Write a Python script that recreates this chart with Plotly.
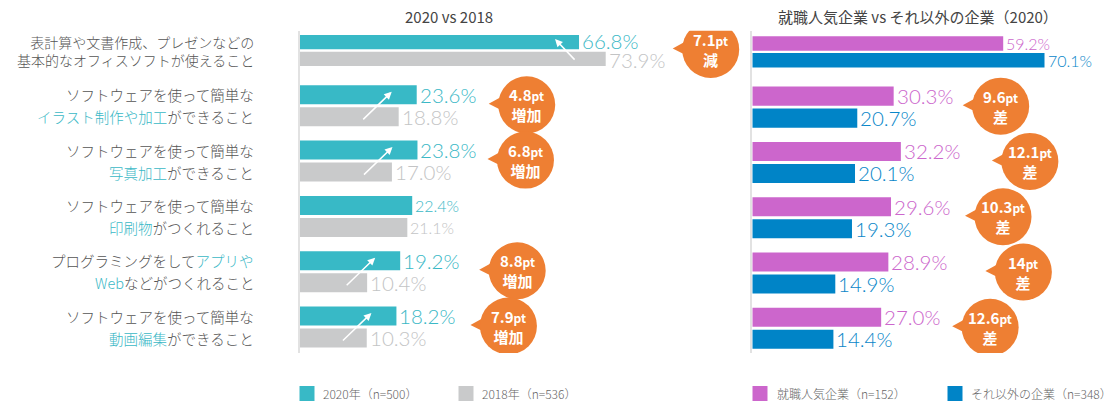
import plotly.graph_objects as go

# ---------------- data ----------------
categories = [
    ("表計算や文書作成、プレゼンなどの", "基本的なオフィスソフトが使えること"),
    ("ソフトウェアを使って簡単な", "[イラスト制作や加工]ができること"),
    ("ソフトウェアを使って簡単な", "[写真加工]ができること"),
    ("ソフトウェアを使って簡単な", "[印刷物]がつくれること"),
    ("プログラミングをして[アプリや]", "[Web]などがつくれること"),
    ("ソフトウェアを使って簡単な", "[動画編集]ができること"),
]
values_2020 = [66.8, 23.6, 23.8, 22.4, 19.2, 18.2]
values_2018 = [73.9, 18.8, 17.0, 21.1, 10.4, 10.3]
values_popular = [59.2, 30.3, 32.2, 29.6, 28.9, 27.0]
values_other = [70.1, 20.7, 20.1, 19.3, 14.9, 14.4]

left_diff = ["7.1", "4.8", "6.8", None, "8.8", "7.9"]
left_diff_word = ["減", "増加", "増加", None, "増加", "増加"]
right_diff = [None, "9.6", "12.1", "10.3", "14", "12.6"]
right_diff_word = [None, "差", "差", "差", "差", "差"]

title_left = "2020 vs 2018"
title_right = "就職人気企業 vs それ以外の企業（2020）"
legend_names = ["2020年（n=500）", "2018年（n=536）", "就職人気企業（n=152）", "それ以外の企業（n=348）"]

# ---------------- styles ----------------
W, H = 1119, 408
C_TEAL, C_GRAY, C_MAG, C_BLUE = "#38B9C6", "#C9CACB", "#CC66CC", "#0084C7"
T_TEAL, T_GRAY, T_MAG, T_BLUE = "#3AB8C6", "#C3C4C5", "#CC66CC", "#0A87C9"
ORANGE = "#EE7F33"
NUM_FONT = "Lato, 'Noto Sans', sans-serif"
JP_FONT = "'Noto Sans CJK JP', 'Noto Sans', sans-serif"

rows = list(range(len(categories)))
bar_w = [0.26] + [0.344] * (len(rows) - 1)
gap = [0.043] + [0.054] * (len(rows) - 1)
top_off = [-(w + g / 2) for w, g in zip(bar_w, gap)]
bot_off = [g / 2 for g in gap]
top_c = [r - (w / 2 + g / 2) for r, w, g in zip(rows, bar_w, gap)]
bot_c = [r + (w / 2 + g / 2) for r, w, g in zip(rows, bar_w, gap)]
big = [d is not None for d in left_diff]
big_r = [d is not None for d in right_diff]

# visual baselines (the reference starts its bars a little left of zero)
LB, RB = 7.6, 7.0
PX_L, PX_R = 3.757, 3.79   # pixels per percentage point
AX_L, AX_R = 299.5, 752.3  # pixel position of each panel's axis line
END_L, END_R = 745, 1119   # right edge of each panel's drawing area

fig = go.Figure()


def add_bar(vals, base, color, offs, xa, ya):
    fig.add_trace(go.Bar(
        y=rows, x=[v + base for v in vals], base=-base, orientation="h",
        width=bar_w, offset=offs, marker=dict(color=color, line=dict(width=0)),
        xaxis=xa, yaxis=ya, showlegend=False, hoverinfo="skip"))


add_bar(values_2020, LB, C_TEAL, top_off, "x", "y")
add_bar(values_2018, LB, C_GRAY, bot_off, "x", "y")
add_bar(values_popular, RB, C_MAG, top_off, "x2", "y2")
add_bar(values_other, RB, C_BLUE, bot_off, "x2", "y2")

ann = []
shapes = []


def val_label(v, y, color, size, xr, yr, ys=0):
    ann.append(dict(x=v, y=y, xref=xr, yref=yr, text=f"{v:.1f}%", showarrow=False,
                    xanchor="left", yanchor="middle", xshift=2, yshift=ys, borderpad=0,
                    font=dict(family=NUM_FONT, size=size, color=color, weight=300)))


for i in rows:
    s = 20.5 if big[i] else 16
    val_label(values_2020[i], top_c[i], T_TEAL, s, "x", "y", 1 if i == 0 else 0)
    val_label(values_2018[i], bot_c[i], T_GRAY, s, "x", "y", -1 if i == 0 else 0)
    s = 20.5 if big_r[i] else 16
    val_label(values_popular[i], top_c[i], T_MAG, s, "x2", "y2")
    val_label(values_other[i], bot_c[i], T_BLUE, s, "x2", "y2")


def mark(t):
    return t.replace("[", f"<span style='color:{T_TEAL}'>").replace("]", "</span>")


for i, (l1, l2) in enumerate(categories):
    if i == 0:
        ann.append(dict(x=256 / W, y=i, xref="paper", yref="y", text=mark(l1) + "<br>" + mark(l2),
                        showarrow=False, xanchor="right", yanchor="middle", align="right",
                        yshift=-0.5, font=dict(family=JP_FONT, size=14, color="#555555", weight=300)))
        continue
    for txt, yy in ((l1, top_c[i]), (l2, bot_c[i])):
        ann.append(dict(x=256 / W, y=yy, xref="paper", yref="y", text=mark(txt),
                        showarrow=False, xanchor="right", yanchor="middle",
                        font=dict(family=JP_FONT, size=14.5, color="#555555", weight=300)))

# arrows inside the 2020 bars
for i in rows:
    if left_diff[i] is None:
        continue
    if values_2020[i] >= values_2018[i]:
        ax, ay, xs = -30, 29, -25
    else:
        ax, ay, xs = 21, 22, -24
    ann.append(dict(x=values_2020[i], y=top_c[i], xref="x", yref="y", text="",
                    showarrow=True, xshift=xs, yshift=3, ax=ax, ay=ay,
                    arrowhead=2, arrowsize=1, arrowwidth=1.5, arrowcolor="white"))

# orange speech bubbles
left_bubble_dx = [105, 110, 108, None, 117, 112]
right_bubble_dx = [None, 107, 129, 112, 135, 109]
R = 28.5


def bubble(anchor, row, dx, num, word, xr, yr):
    dy = 1
    shapes.append(dict(type="path", xref=xr, yref=yr, xsizemode="pixel", ysizemode="pixel",
                       xanchor=anchor, yanchor=row,
                       path=f"M{dx-38},{dy+1} L{dx-18},{dy+12} L{dx-16},{dy-10} Z",
                       fillcolor=ORANGE, line=dict(width=0)))
    shapes.append(dict(type="circle", xref=xr, yref=yr, xsizemode="pixel", ysizemode="pixel",
                       xanchor=anchor, yanchor=row, x0=dx - R, x1=dx + R,
                       y0=dy - R, y1=dy + R, fillcolor=ORANGE, line=dict(width=0)))
    ann.append(dict(x=anchor, y=row, xref=xr, yref=yr, xshift=dx, yshift=dy,
                    text=f"<b>{num}<span style='font-size:12px'>pt</span><br>{word}</b>",
                    showarrow=False, xanchor="center", yanchor="middle",
                    font=dict(family=JP_FONT, size=15, color="white")))


for i in rows:
    if left_diff[i] is not None:
        bubble(max(values_2020[i], values_2018[i]), i, left_bubble_dx[i],
               left_diff[i], left_diff_word[i], "x", "y")
    if right_diff[i] is not None:
        bubble(max(values_popular[i], values_other[i]), i, right_bubble_dx[i],
               right_diff[i], right_diff_word[i], "x2", "y2")

# titles
for txt, xc in ((title_left, 449), (title_right, 918)):
    ann.append(dict(x=xc / W, y=1 - 16.5 / H, xref="paper", yref="paper", text=txt,
                    showarrow=False, xanchor="center", yanchor="middle",
                    font=dict(family=JP_FONT, size=15, color="#444444")))

# legend
for name, col, sx, tx in zip(legend_names, [C_TEAL, C_GRAY, C_MAG, C_BLUE],
                             [299.5, 458.5, 752.5, 947.5], [321, 479.5, 775, 969]):
    shapes.append(dict(type="rect", xref="paper", yref="paper", x0=sx / W, x1=(sx + 15) / W,
                       y0=1 - 401 / H, y1=1 - 386 / H, fillcolor=col, line=dict(width=0)))
    ann.append(dict(x=tx / W, y=1 - 393.5 / H, xref="paper", yref="paper", text=name,
                    showarrow=False, xanchor="left", yanchor="middle",
                    font=dict(family=JP_FONT, size=12, color="#666666", weight=300)))

ax_common = dict(showgrid=False, zeroline=False, showticklabels=False, ticks="")
ydom = [1 - 353 / H, 1 - 30.7 / H]
fig.update_layout(
    width=W, height=H, margin=dict(l=0, r=0, t=0, b=0),
    paper_bgcolor="white", plot_bgcolor="white", barmode="overlay",
    xaxis=dict(domain=[AX_L / W, END_L / W], range=[-LB, -LB + (END_L - AX_L) / PX_L],
               anchor="y", showline=False, **ax_common),
    yaxis=dict(domain=ydom, range=[5.47, -0.358], anchor="x", showline=True,
               linecolor="#E2E2E2", linewidth=2, **ax_common),
    xaxis2=dict(domain=[AX_R / W, END_R / W], range=[-RB, -RB + (END_R - AX_R) / PX_R],
                anchor="y2", showline=False, **ax_common),
    yaxis2=dict(domain=ydom, range=[5.446, -0.382], anchor="x2", showline=True,
                linecolor="#E2E2E2", linewidth=2, **ax_common),
    annotations=ann, shapes=shapes,
)

fig.write_html("out.html", config={"displayModeBar": False, "staticPlot": True},
               post_script="document.body.style.margin='0px';")
